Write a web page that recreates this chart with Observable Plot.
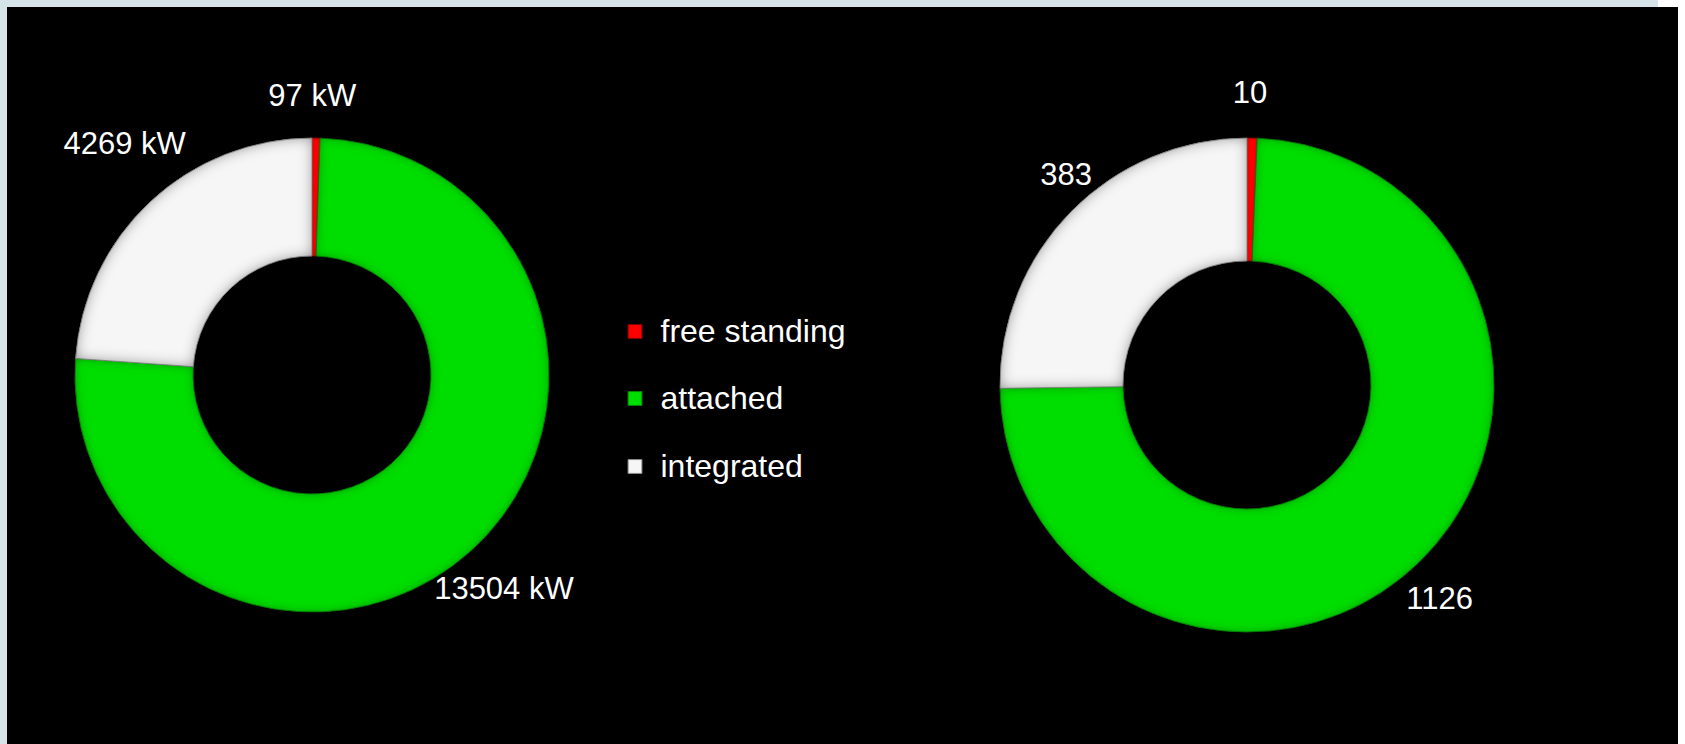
<!DOCTYPE html>
<html>
<head>
<meta charset="utf-8">
<script src="https://cdn.jsdelivr.net/npm/d3@7"></script>
<script src="https://cdn.jsdelivr.net/npm/@observablehq/plot@0.6"></script>
<style>
  html, body { margin: 0; padding: 0; }
  body { width: 1685px; height: 744px; overflow: hidden; position: relative; background: #ffffff; font-family: "Liberation Sans", Arial, sans-serif; }
  .band-top { position: absolute; left: 0; top: 0; width: 1658px; height: 7px; background: #d6e4ea; }
  .band-left { position: absolute; left: 0; top: 0; width: 7px; height: 744px; background: #d6e4ea; }
  .panel { position: absolute; left: 7px; top: 7px; width: 1671px; height: 737px; background: #000000; }
  #chart { position: absolute; left: 0; top: 0; }
</style>
</head>
<body>
<div class="band-top"></div>
<div class="band-left"></div>
<div class="panel"></div>
<div id="chart"></div>
<script>
// ---- data ----
const categories = ["free standing", "attached", "integrated"];
const leftValues = [97, 13504, 4269];
const rightValues = [10, 1126, 383];
const leftLabels = ["97 kW", "13504 kW", "4269 kW"];
const rightLabels = ["10", "1126", "383"];
const colors = ["#ff0000", "#00dd00", "#f6f6f6"];
const edgeColors = ["#8a0000", "#008a00", "#8c8c8c"];

// ---- layout (pixels) ----
const W = 1685, H = 744;
const donutLayout = [
  {cx: 312, cy: 375, R: 237, r: 119, nudges: [[-5, -2], [6, 8], [1, -29]]},
  {cx: 1247, cy: 385, R: 247, r: 124, nudges: [[-3.5, -5.5], [-8, 8], [23, -9]]}
];
const donutValues = [leftValues, rightValues];
const donutLabels = [leftLabels, rightLabels];
const labelGap = 40;
const legendLayout = {swatchX: 634.5, textX: 660, ys: [331, 398, 466]};

// ---- derived tables ----
const pie = d3.pie().sort(null).value(d => d);
const slices = [];
const labelRows = [];
donutValues.forEach((vals, di) => {
  const L = donutLayout[di];
  pie(vals).forEach((a, i) => {
    slices.push({donut: di, category: categories[i], value: vals[i], index: i,
      startAngle: a.startAngle, endAngle: a.endAngle, cx: L.cx, cy: L.cy, R: L.R, r: L.r});
    const mid = (a.startAngle + a.endAngle) / 2;
    const d = L.R + labelGap;
    labelRows.push({
      text: donutLabels[di][i],
      x: L.cx + d * Math.sin(mid) + L.nudges[i][0],
      y: L.cy - d * Math.cos(mid) + L.nudges[i][1]
    });
  });
});
const legendRows = categories.map((c, i) => ({category: c, i, x: legendLayout.swatchX, tx: legendLayout.textX, y: legendLayout.ys[i]}));

// ---- custom donut mark using Plot scales ----
function donutMark(index, scales, values, dimensions, context) {
  const g = d3.create("svg:g");
  const defs = g.append("defs");
  const shades = [
    {id: "bevel-red", color: "#500000", op: 0.6, sd: 2},
    {id: "bevel-green", color: "#003000", op: 0.7, sd: 5},
    {id: "bevel-white", color: "#505050", op: 0.85, sd: 7}
  ];
  shades.forEach(s => {
    const f = defs.append("filter").attr("id", s.id)
      .attr("x", "-5%").attr("y", "-5%").attr("width", "110%").attr("height", "110%");
    f.append("feGaussianBlur").attr("in", "SourceAlpha").attr("stdDeviation", s.sd).attr("result", "b");
    f.append("feComposite").attr("in", "SourceAlpha").attr("in2", "b")
      .attr("operator", "arithmetic").attr("k1", 0).attr("k2", 1).attr("k3", -1).attr("k4", 0).attr("result", "edge");
    f.append("feFlood").attr("flood-color", s.color).attr("flood-opacity", s.op).attr("result", "fl");
    f.append("feComposite").attr("in", "fl").attr("in2", "edge").attr("operator", "in").attr("result", "shadow");
    const m = f.append("feMerge");
    m.append("feMergeNode").attr("in", "SourceGraphic");
    m.append("feMergeNode").attr("in", "shadow");
  });
  const filterIds = ["bevel-red", "bevel-green", "bevel-white"];
  slices.forEach(s => {
    const px = scales.x(s.cx), py = scales.y(s.cy);
    const Rp = scales.x(s.cx + s.R) - px;
    const rp = scales.x(s.cx + s.r) - px;
    const path = d3.arc()({innerRadius: rp, outerRadius: Rp, startAngle: s.startAngle, endAngle: s.endAngle});
    g.append("path")
      .attr("transform", `translate(${px},${py})`)
      .attr("d", path)
      .attr("fill", colors[s.index])
      .attr("stroke", edgeColors[s.index])
      .attr("stroke-width", 0.8)
      .attr("filter", `url(#${filterIds[s.index]})`);
  });
  return g.node();
}

const chart = Plot.plot({
  width: W,
  height: H,
  margin: 0,
  style: {background: "transparent", color: "white"},
  x: {domain: [0, W], range: [0, W], axis: null},
  y: {domain: [0, H], range: [0, H], axis: null},
  marks: [
    donutMark,
    Plot.text(labelRows, {x: "x", y: "y", text: "text", fill: "white", fontSize: 31,
      fontFamily: "Liberation Sans, Arial, sans-serif", textAnchor: "middle", lineAnchor: "middle"}),
    Plot.dot(legendRows, {x: "x", y: "y", symbol: "square", r: 7.8,
      fill: d => colors[d.i], stroke: d => edgeColors[d.i], strokeWidth: 1}),
    Plot.text(legendRows, {x: "tx", y: "y", text: "category", fill: "white", fontSize: 32,
      fontFamily: "Liberation Sans, Arial, sans-serif", textAnchor: "start", lineAnchor: "middle"})
  ],
  fill: {type: "identity"},
  stroke: {type: "identity"}
});
document.getElementById("chart").appendChild(chart);
</script>
</body>
</html>
